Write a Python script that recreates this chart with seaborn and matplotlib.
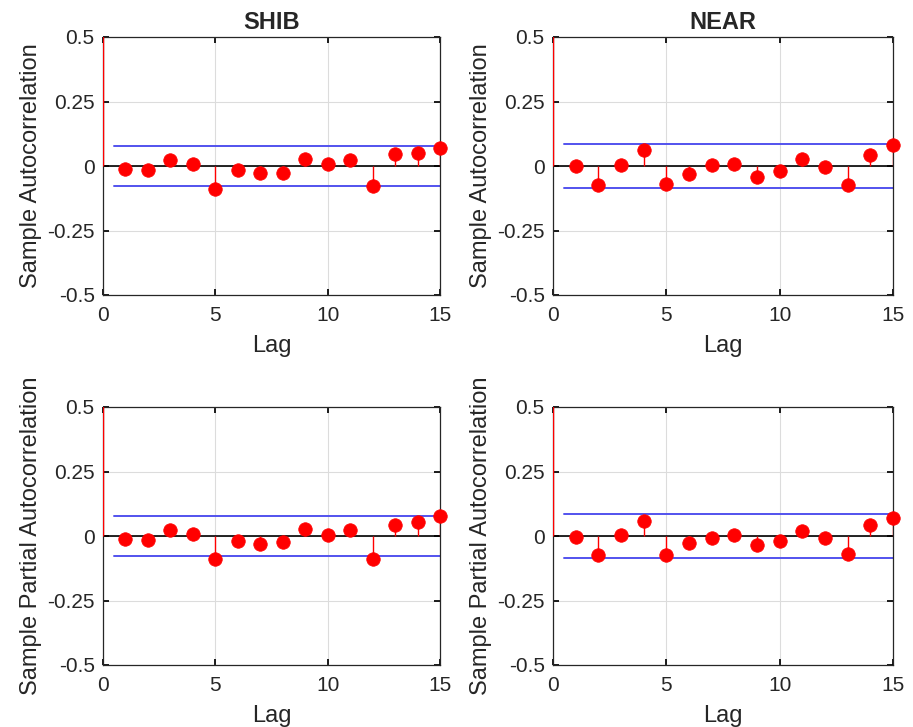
import numpy as np
import pandas as pd
import matplotlib
matplotlib.use("Agg")
import matplotlib.pyplot as plt
import seaborn as sns

lags = list(range(0, 16))

shib_acf = [1.0, -0.013, -0.017, 0.023, 0.009, -0.089, -0.017, -0.028, -0.026,
            0.026, 0.009, 0.022, -0.078, 0.048, 0.050, 0.068]
near_acf = [1.0, 0.0, -0.072, 0.005, 0.061, -0.070, -0.032, 0.003, 0.009,
            -0.041, -0.018, 0.026, -0.005, -0.072, 0.043, 0.081]
shib_pacf = [1.0, -0.013, -0.017, 0.023, 0.008, -0.090, -0.018, -0.031, -0.025,
             0.028, 0.003, 0.022, -0.088, 0.043, 0.053, 0.076]
near_pacf = [1.0, -0.003, -0.074, 0.004, 0.059, -0.072, -0.026, -0.008, 0.003,
             -0.036, -0.019, 0.019, -0.009, -0.071, 0.043, 0.071]

shib_bound = 0.079
near_bound = 0.084

titles = ["SHIB", "NEAR"]
ylabels = ["Sample Autocorrelation", "Sample Partial Autocorrelation"]
yticks = [-0.5, -0.25, 0, 0.25, 0.5]
yticklabels = ["-0.5", "-0.25", "0", "0.25", "0.5"]
xticks = [0, 5, 10, 15]

sns.set_theme(style="white")
plt.rcParams['font.family'] = ['Liberation Sans', 'DejaVu Sans']

fig = plt.figure(figsize=(9.13, 7.27), dpi=100)

positions = {
    (0, 0): [103/913, 1-295/727, 337/913, 258/727],
    (0, 1): [553/913, 1-295/727, 340/913, 258/727],
    (1, 0): [103/913, 1-665/727, 337/913, 258/727],
    (1, 1): [553/913, 1-665/727, 340/913, 258/727],
}

panels = {
    (0, 0): (shib_acf, shib_bound),
    (0, 1): (near_acf, near_bound),
    (1, 0): (shib_pacf, shib_bound),
    (1, 1): (near_pacf, near_bound),
}

for (r, c), (vals, bnd) in panels.items():
    ax = fig.add_axes(positions[(r, c)])
    df = pd.DataFrame({"lag": lags, "val": vals})
    ax.set_xlim(0, 15)
    ax.set_ylim(-0.5, 0.5)
    ax.grid(True, color="#dcdcdc", linewidth=0.8)
    ax.set_axisbelow(True)
    ax.axhline(0, color="black", linewidth=1.2, zorder=2)
    ax.vlines(df["lag"], 0, df["val"], color="red", linewidth=1.0, zorder=3)
    ax.plot([0.5, 15], [bnd, bnd], color="#5252ee", linewidth=1.4, zorder=2)
    ax.plot([0.5, 15], [-bnd, -bnd], color="#5252ee", linewidth=1.4, zorder=2)
    sns.scatterplot(data=df[df["lag"] > 0], x="lag", y="val", ax=ax,
                    color="red", s=95, edgecolor="red", linewidth=0.5,
                    zorder=4, clip_on=False)
    ax.set_xticks(xticks)
    ax.set_xticklabels([str(t) for t in xticks])
    ax.set_yticks(yticks)
    ax.set_yticklabels(yticklabels)
    ax.tick_params(direction="in", length=4, labelsize=15, colors="black",
                   top=True, right=True, bottom=True, left=True)
    ax.tick_params(axis="x", pad=8)
    ax.tick_params(axis="y", pad=6)
    for t in ax.get_xticklabels() + ax.get_yticklabels():
        t.set_color("#262626")
    for s in ax.spines.values():
        s.set_color("#262626")
        s.set_linewidth(0.9)
    ax.set_xlabel("Lag", fontsize=17, color="#262626", labelpad=7)
    ax.set_ylabel(ylabels[r], fontsize=17, color="#262626", labelpad=4)
    if r == 0:
        ax.set_title(titles[c], fontsize=17, fontweight="bold", pad=6)

fig.savefig("out.png", dpi=100, facecolor="white")
